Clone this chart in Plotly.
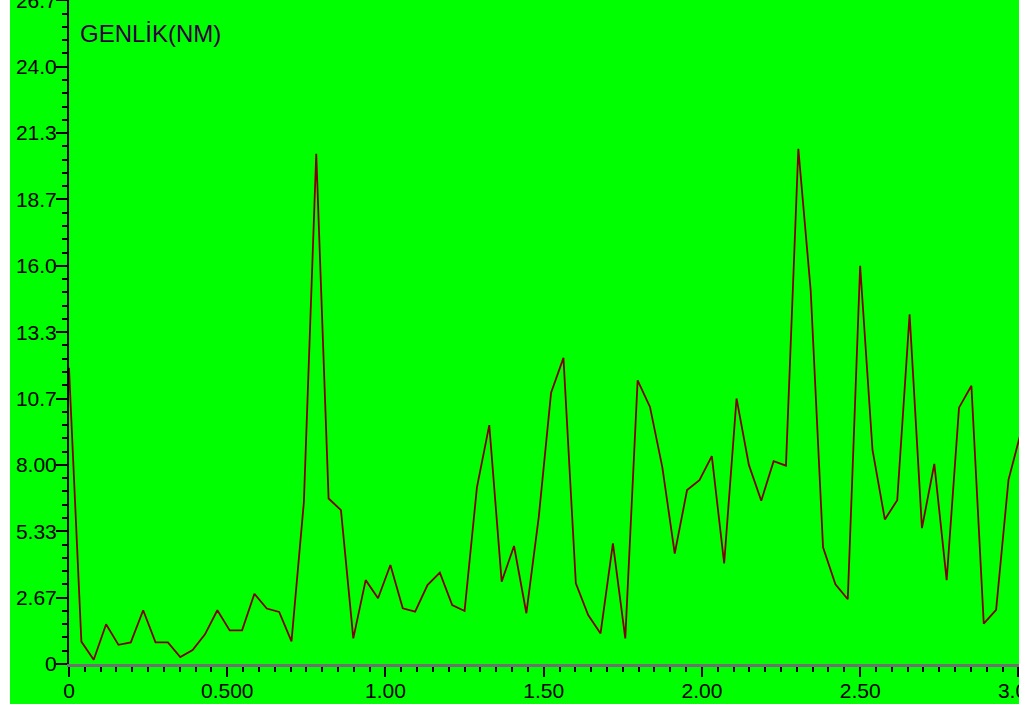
import plotly.graph_objects as go

freq = [0, 0.0391, 0.0781, 0.1172, 0.1563, 0.1953, 0.2344, 0.2734, 0.3125, 0.3516,
        0.3906, 0.4297, 0.4688, 0.5078, 0.5469, 0.5859, 0.625, 0.6641, 0.7031, 0.7422,
        0.7813, 0.8203, 0.8594, 0.8984, 0.9375, 0.9766, 1.0156, 1.0547, 1.0938, 1.1328,
        1.1719, 1.2109, 1.25, 1.2891, 1.3281, 1.3672, 1.4063, 1.4453, 1.4844, 1.5234,
        1.5625, 1.6016, 1.6406, 1.6797, 1.7188, 1.7578, 1.7969, 1.8359, 1.875, 1.9141,
        1.9531, 1.9922, 2.0313, 2.0703, 2.1094, 2.1484, 2.1875, 2.2266, 2.2656, 2.3047,
        2.3438, 2.3828, 2.4219, 2.4609, 2.5, 2.5391, 2.5781, 2.6172, 2.6563, 2.6953,
        2.7344, 2.7734, 2.8125, 2.8516, 2.8906, 2.9297, 2.9688, 3.0078]

amplitude = [11.9, 0.9, 0.17, 1.6, 0.77, 0.87, 2.16, 0.87, 0.87, 0.28,
             0.56, 1.19, 2.16, 1.35, 1.35, 2.82, 2.23, 2.09, 0.91, 6.5,
             20.5, 6.65, 6.18, 1.03, 3.37, 2.64, 3.98, 2.24, 2.1, 3.17,
             3.67, 2.37, 2.13, 7.1, 9.6, 3.31, 4.74, 2.04, 5.9, 10.9,
             12.3, 3.24, 1.97, 1.23, 4.85, 1.03, 11.4, 10.33, 7.9, 4.44,
             6.99, 7.39, 8.35, 4.04, 10.67, 8.0, 6.56, 8.15, 7.97, 20.7,
             15.0, 4.69, 3.2, 2.6, 16.0, 8.6, 5.81, 6.58, 14.05, 5.46,
             8.04, 3.37, 10.3, 11.18, 1.62, 2.18, 7.4, 9.3]

x_tickvals = [0, 0.5, 1.0, 1.5, 2.0, 2.5, 3.0]
x_ticktext = ["0", "0.500", "1.00", "1.50", "2.00", "2.50", "3.00"]
y_tickvals = [0, 2.667, 5.333, 8.0, 10.667, 13.333, 16.0, 18.667, 21.333, 24.0, 26.667]
y_ticktext = ["0", "2.67", "5.33", "8.00", "10.7", "13.3", "16.0", "18.7", "21.3", "24.0", "26.7"]
title_text = "GENLİK(NM)"

GREEN = "#00FF00"
W, H = 1019, 704
ML, MR, MT, MB = 69, 0, 0, 40
PW, PH = W - ML - MR, H - MT - MB

fig = go.Figure()
fig.add_trace(go.Scatter(
    x=freq, y=amplitude, mode="lines",
    line=dict(color="#800000", width=1.8),
    hoverinfo="x+y", showlegend=False,
))

font_ticks = dict(family="Liberation Sans, Arial, sans-serif", size=21, color="black")

fig.update_layout(
    width=W, height=H,
    margin=dict(l=ML, r=MR, t=MT, b=MB, pad=0, autoexpand=False),
    paper_bgcolor=GREEN, plot_bgcolor=GREEN,
    xaxis=dict(
        range=[0, 3.002], showgrid=False, zeroline=False, automargin=False,
        showline=True, linecolor="#707070", linewidth=3,
        tickmode="array", tickvals=x_tickvals, ticktext=x_ticktext,
        ticks="outside", ticklen=10, tickwidth=2, tickcolor="black",
        tickfont=font_ticks, ticklabeloverflow="allow", ticklabelstandoff=-4,
        minor=dict(dtick=0.05, tick0=0, ticks="outside", ticklen=5,
                   tickwidth=2, tickcolor="black", showgrid=False),
    ),
    yaxis=dict(
        range=[0, 26.68], showgrid=False, zeroline=False, automargin=False,
        showline=True, linecolor="black", linewidth=2,
        tickmode="array", tickvals=y_tickvals, ticktext=y_ticktext,
        ticks="outside", ticklen=11, tickwidth=2, tickcolor="black",
        tickfont=font_ticks, ticklabeloverflow="allow", ticklabelstandoff=-5,
        minor=dict(dtick=26.667 / 50, tick0=0, ticks="outside", ticklen=5,
                   tickwidth=2, tickcolor="black", showgrid=False),
    ),
    shapes=[dict(
        type="rect", xref="paper", yref="paper",
        x0=-ML / PW, x1=-(ML - 10) / PW, y0=-MB / PH, y1=1.0,
        fillcolor="white", line=dict(width=0), layer="above",
    )],
    annotations=[dict(
        text=title_text, xref="paper", yref="paper",
        x=(78 - ML) / PW, y=1 - 34 / PH, xanchor="left", yanchor="middle",
        showarrow=False,
        font=dict(family="Liberation Sans, Arial, sans-serif", size=24, color="#300040"),
    )],
)

fig.write_html(
    "out.html",
    config={"displayModeBar": False},
    post_script="document.body.style.margin='0';document.body.style.overflow='hidden';",
)
